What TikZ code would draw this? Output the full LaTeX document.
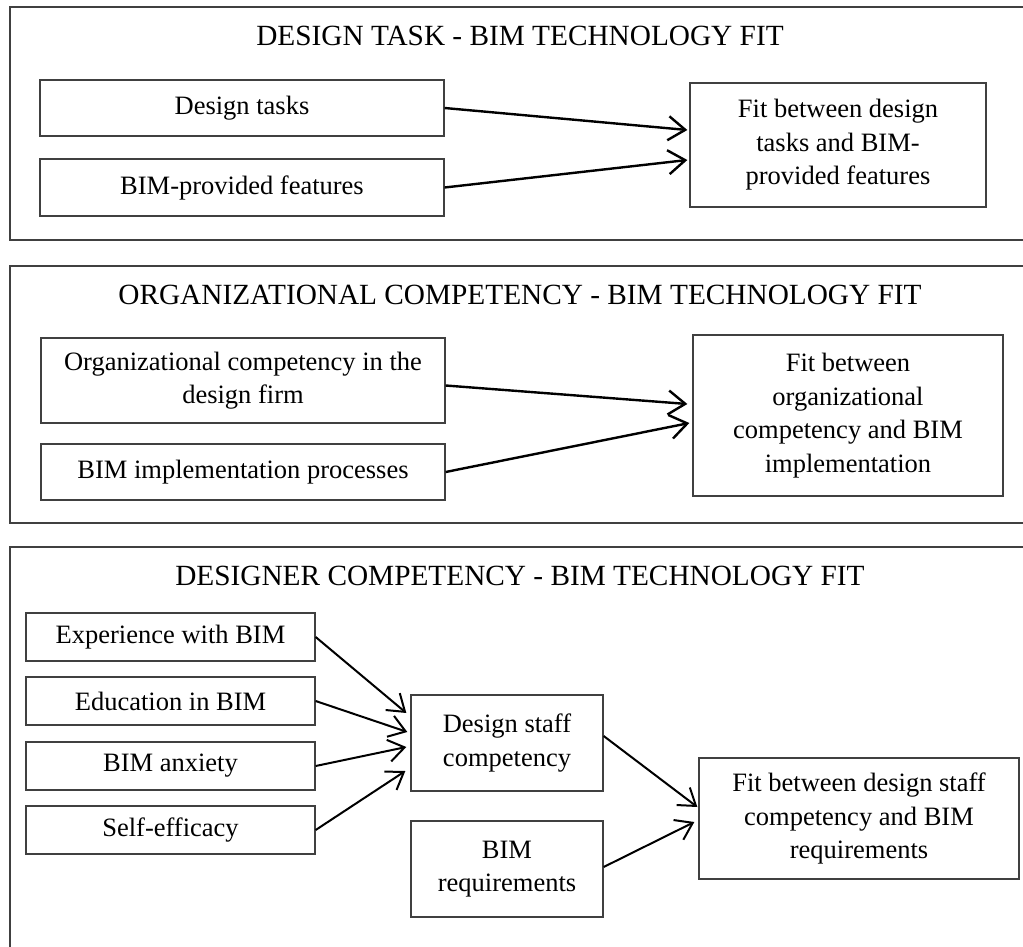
\documentclass[tikz,border=0pt]{standalone}
\usepackage{fontspec}
\setmainfont{Liberation Serif}
\usetikzlibrary{arrows.meta}

\begin{document}
\begin{tikzpicture}[x=1pt,y=-1pt,
  panel/.style={draw=black!75, line width=1.3pt},
  box/.style={draw=black!75, line width=1.3pt, inner sep=0pt, align=center,
    font=\fontsize{26.5}{33.5}\selectfont},
  heading/.style={inner sep=0pt, font=\fontsize{29.3}{34}\selectfont},
  link/.style={line width=2.4pt, -{Straight Barb[length=17pt,width=24pt]}},
  thinlink/.style={line width=2pt, -{Straight Barb[length=16pt,width=22pt]}}]

\useasboundingbox (0,0) rectangle (1023,947);
\clip (0,0) rectangle (1023,947);

% ---- panel frames (open to the right and below) ----
\draw[panel] (10,7) rectangle (1040,240);
\draw[panel] (10,266) rectangle (1040,523);
\draw[panel] (10,547) rectangle (1040,980);

% ---- panel 1: design task fit ----
\node[heading] (t1) at (520,35.5) {DESIGN TASK - BIM TECHNOLOGY FIT};
\node[box, minimum width=404, minimum height=56] (dt) at (242,108) {Design tasks};
\node[box, minimum width=404, minimum height=57] (bf) at (242,187.5) {BIM-provided features};
\node[box, minimum width=296, minimum height=124] (fit1) at (838,145)
  {Fit between design\\tasks and BIM-\\provided features};
\draw[link] (dt.east) -- ([xshift=-2pt,yshift=15pt]fit1.west);
\draw[link] (bf.east) -- ([xshift=-2pt,yshift=-15pt]fit1.west);

% ---- panel 2: organizational competency fit ----
\node[heading] (t2) at (520,294.5) {ORGANIZATIONAL COMPETENCY - BIM TECHNOLOGY FIT};
\node[box, minimum width=404, minimum height=85] (org) at (243,380.5)
  {Organizational competency in the\\design firm};
\node[box, minimum width=404, minimum height=56] (impl) at (243,472)
  {BIM implementation processes};
\node[box, minimum width=310, minimum height=161] (fit2) at (848,415.5)
  {Fit between\\organizational\\competency and BIM\\implementation};
\draw[link] ([yshift=-5pt]org.east) -- ([xshift=-5pt,yshift=11.5pt]fit2.west);
\draw[link] (impl.east) -- ([xshift=-3pt,yshift=-7.5pt]fit2.west);

% ---- panel 3: designer competency fit ----
\node[heading] (t3) at (520,576) {DESIGNER COMPETENCY - BIM TECHNOLOGY FIT};
\node[box, minimum width=289, minimum height=48] (exp) at (170.5,637) {Experience with BIM};
\node[box, minimum width=289, minimum height=48] (edu) at (170.5,701) {Education in BIM};
\node[box, minimum width=289, minimum height=48] (anx) at (170.5,766) {BIM anxiety};
\node[box, minimum width=289, minimum height=48] (self) at (170.5,830) {Self-efficacy};
\node[box, minimum width=192, minimum height=96] (ds) at (507,743)
  {Design staff\\competency};
\node[box, minimum width=192, minimum height=96] (br) at (507,869)
  {BIM\\requirements};
\node[box, minimum width=320, minimum height=121] (fit3) at (859,818.5)
  {Fit between design staff\\competency and BIM\\requirements};

\draw[thinlink] (exp.east) -- ([xshift=-4pt,yshift=30pt]ds.west);
\draw[thinlink] (edu.east) -- ([xshift=-3pt,yshift=11pt]ds.west);
\draw[thinlink] (anx.east) -- ([xshift=-4pt,yshift=-4pt]ds.west);
\draw[thinlink] (self.east) -- ([xshift=-5pt,yshift=-28pt]ds.west);
\draw[thinlink] ([yshift=7pt]ds.east) -- ([xshift=-1pt,yshift=11.5pt]fit3.west);
\draw[thinlink] ([yshift=2pt]br.east) -- ([xshift=-4pt,yshift=-3.5pt]fit3.west);
\end{tikzpicture}
\end{document}
